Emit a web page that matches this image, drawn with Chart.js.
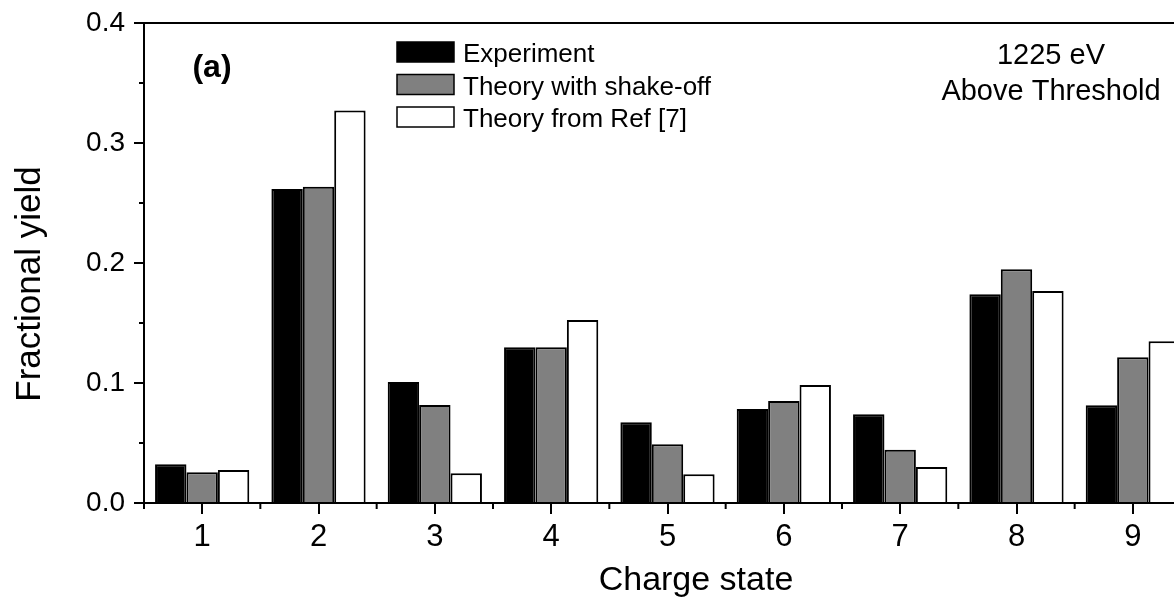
<!DOCTYPE html>
<html>
<head>
<meta charset="utf-8">
<script src="https://cdn.jsdelivr.net/npm/chart.js@4/dist/chart.umd.min.js"></script>
<style>
  html, body { margin: 0; padding: 0; background: #fff; overflow: hidden; }
  #wrap { width: 1192px; height: 597px; }
</style>
</head>
<body>
<div id="wrap"><canvas id="yieldChart" width="1192" height="597"></canvas></div>
<script>
const FONT = "'Liberation Sans', Arial, sans-serif";

// Data
const chargeStates = ['1', '2', '3', '4', '5', '6', '7', '8', '9'];
const experiment   = [0.0322, 0.2617, 0.1008, 0.1297, 0.0672, 0.0783, 0.0739, 0.1740, 0.0814];
const shakeOff     = [0.0256, 0.2636, 0.0817, 0.1297, 0.0490, 0.0850, 0.0444, 0.1947, 0.1214];
const refSeven     = [0.0275, 0.3270, 0.0247, 0.1525, 0.0240, 0.0983, 0.0300, 0.1767, 0.1347];
const seriesNames  = ['Experiment', 'Theory with shake-off', 'Theory from Ref [7]'];
const seriesFills  = ['#000000', '#808080', '#ffffff'];
const yTicks       = [0, 0.1, 0.2, 0.3, 0.4];

// frame, minor ticks, titles, legend and notes
const extras = {
  id: 'extras',
  afterDraw(chart) {
    const ctx = chart.ctx;
    const { left, right, top, bottom } = chart.chartArea;
    const x = chart.scales.x, y = chart.scales.y;
    ctx.save();
    ctx.strokeStyle = '#000';
    ctx.lineWidth = 2;

    // top and right frame
    ctx.beginPath();
    ctx.moveTo(left, top); ctx.lineTo(right, top); ctx.lineTo(right, bottom);
    ctx.stroke();

    // minor x ticks at category edges
    const step = x.getPixelForValue(1) - x.getPixelForValue(0);
    for (let i = 0; i <= chargeStates.length; i++) {
      const px = x.getPixelForValue(0) - step / 2 + i * step;
      ctx.beginPath(); ctx.moveTo(px, bottom); ctx.lineTo(px, bottom + 6); ctx.stroke();
    }
    // minor y ticks
    for (let v = 0.05; v < 0.4; v += 0.1) {
      const py = y.getPixelForValue(v);
      ctx.beginPath(); ctx.moveTo(left, py); ctx.lineTo(left - 5, py); ctx.stroke();
    }

    ctx.fillStyle = '#000';
    // axis titles
    ctx.font = '34px ' + FONT;
    ctx.textAlign = 'center';
    ctx.textBaseline = 'alphabetic';
    ctx.fillText('Charge state', 696, 590);
    ctx.save();
    ctx.translate(40, 284);
    ctx.rotate(-Math.PI / 2);
    ctx.font = '35px ' + FONT;
    ctx.fillText('Fractional yield', 0, 0);
    ctx.restore();

    // panel label and notes
    ctx.font = 'bold 32px ' + FONT;
    ctx.fillText('(a)', 212, 77);
    ctx.font = '29px ' + FONT;
    ctx.fillText('1225 eV', 1051, 64);
    ctx.fillText('Above Threshold', 1051, 100);

    // legend
    ctx.textAlign = 'left';
    ctx.font = '26px ' + FONT;
    chart.data.datasets.forEach((ds, i) => {
      const by = 42 + i * 32.5;
      ctx.fillStyle = ds.backgroundColor;
      ctx.fillRect(397, by, 57, 20);
      ctx.lineWidth = 1.5;
      ctx.strokeRect(397, by, 57, 20);
      ctx.fillStyle = '#000';
      ctx.fillText(ds.label, 463, by + 20);
    });
    ctx.restore();
  }
};

new Chart(document.getElementById('yieldChart'), {
  type: 'bar',
  data: {
    labels: chargeStates,
    datasets: [experiment, shakeOff, refSeven].map((d, i) => ({
      label: seriesNames[i],
      data: d,
      backgroundColor: seriesFills[i],
      borderColor: '#000',
      borderWidth: 2,
      categoryPercentage: 0.81,
      barPercentage: 1.0
    }))
  },
  options: {
    responsive: false,
    animation: false,
    layout: { padding: { top: 23, right: 1, left: 0, bottom: 0 } },
    plugins: { legend: { display: false }, tooltip: { enabled: false } },
    scales: {
      x: {
        afterFit: s => { s.height = 94; s.paddingLeft = 0; s.paddingRight = 0; },
        grid: { offset: false, drawOnChartArea: false, tickLength: 11, color: '#000', lineWidth: 2 },
        border: { display: true, color: '#000', width: 2 },
        ticks: { color: '#000', font: { family: FONT, size: 31 }, padding: 5, maxRotation: 0 }
      },
      y: {
        min: 0, max: 0.4,
        afterFit: s => { s.width = 144; s.paddingTop = 0; s.paddingBottom = 0; },
        afterBuildTicks: s => { s.ticks = yTicks.map(v => ({ value: v })); },
        grid: { drawOnChartArea: false, tickLength: 10, color: '#000', lineWidth: 2 },
        border: { display: true, color: '#000', width: 2 },
        ticks: { color: '#000', font: { family: FONT, size: 28 }, padding: 9, callback: v => v.toFixed(1) }
      }
    }
  },
  plugins: [extras]
});
</script>
</body>
</html>
